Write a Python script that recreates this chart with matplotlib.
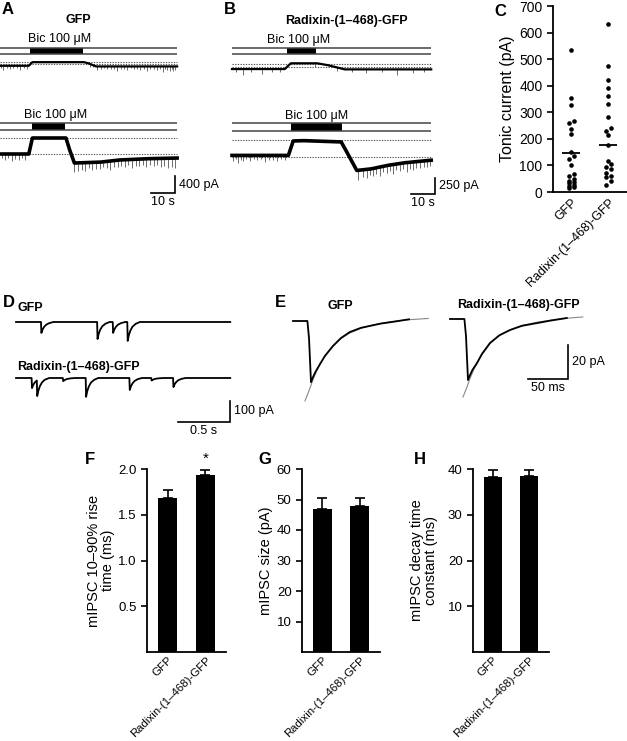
import numpy as np
import matplotlib
matplotlib.use('Agg')
import matplotlib.pyplot as plt

plt.rcParams['font.family'] = ['Liberation Sans', 'DejaVu Sans']

groups = ['GFP', 'Radixin-(1\u2013468)-GFP']

# A: tonic current, GFP (time s, current pA)
a1_time = [0, 12.0, 13.5, 35.0, 37.0, 40.0, 73.8]
a1_curr = [-35, -35, 50, 50, 20, -50, -50]
a1_dotted = [0, 60]
a1_bic = (12.5, 34.6)
a1_spike_t = [0.6, 1.4, 2.9, 4.2, 5.5, 7.0, 8.3, 9.9, 11.2, 37.5, 38.8, 40.4, 42.0, 43.2, 44.6,
              46.1, 47.5, 48.8, 50.3, 51.6, 52.9, 54.5, 55.9, 57.0, 58.3, 59.8, 61.3, 62.6,
              64.0, 65.4, 66.6, 67.9, 68.8, 69.6, 70.8, 71.5, 72.1, 73.0]
a1_spike_a = [60, 90, 50, 70, 60, 45, 110, 55, 70, 80, 50, 90, 60, 45, 70,
              55, 65, 100, 50, 60, 80, 45, 70, 55, 90, 60, 110, 50,
              70, 80, 55, 120, 60, 90, 100, 70, 110, 80]

a2_time = [0, 12.0, 13.5, 27.5, 29.0, 31.0, 42.0, 50.0, 62.0, 73.8]
a2_curr = [0, 0, 376, 376, 100, -212, -190, -140, -110, -95]
a2_dotted = [0, 376]
a2_bic = (13.3, 27.1)
a2_spike_t = [0.8, 2.2, 3.5, 5.0, 6.3, 7.8, 9.2, 10.6, 31.0, 32.5, 34.0, 35.5, 37.0, 38.5,
              40.0, 41.5, 43.0, 44.5, 46.0, 47.5, 49.0, 50.5, 52.0, 53.5, 55.0, 56.5, 58.0,
              59.5, 61.0, 62.5, 64.0, 65.5, 67.0, 68.5, 70.0, 71.5, 73.0]
a2_spike_a = [100, 140, 90, 160, 110, 130, 100, 150, 220, 180, 160, 200, 140, 190,
              150, 170, 130, 160, 200, 150, 170, 140, 180, 130, 190, 150, 160,
              140, 200, 150, 170, 160, 210, 180, 240, 200, 230]

# B: tonic current, Radixin-(1-468)-GFP
b1_time = [0, 22.0, 24.5, 35.5, 40.0, 47.0, 83.0]
b1_curr = [-40, -40, 50, 50, 20, -45, -45]
b1_dotted = [0, 40]
b1_bic = (22.9, 35.0)
b1_spike_t = [1.5, 4.6, 8.0, 12.5, 16.5, 20.0, 34.6, 43.75, 50.0, 56.0, 62.5, 68.75, 75.4, 80.0]
b1_spike_a = [50, 90, 45, 70, 50, 40, 60, 50, 45, 55, 40, 80, 60, 45]

b2_time = [0, 23.5, 25.5, 30.0, 45.5, 47.5, 52.0, 58.0, 65.0, 72.0, 83.0]
b2_curr = [25, 25, 250, 255, 235, 100, -210, -185, -130, -90, -50]
b2_dotted = [0, 265]
b2_bic = (24.6, 45.8)
b2_spike_t = [0.4, 1.5, 2.5, 3.6, 4.6, 6.0, 7.5, 9.0, 10.4, 12.0, 13.75, 15.5, 17.0, 18.75,
              20.5, 22.0, 52.5, 54.5, 56.3, 57.5, 58.8, 60.2, 61.7, 63.0, 64.6, 65.8, 67.1,
              68.5, 70.0, 71.4, 72.9, 74.0, 75.4, 76.8, 78.3, 79.8, 81.3, 82.5]
b2_spike_a = [80, 60, 120, 70, 90, 60, 80, 55, 70, 60, 100, 65, 75, 80,
              60, 70, 150, 110, 130, 90, 120, 100, 140, 90, 110, 95, 150,
              100, 120, 90, 140, 100, 130, 95, 110, 90, 100, 85]

# C: tonic current per cell (pA)
c_gfp = [534, 352, 326, 268, 258, 236, 217, 150, 135, 123, 101, 68, 62, 48, 42, 36, 32, 28, 24, 20, 16]
c_rad = [632, 475, 421, 390, 361, 333, 283, 239, 229, 214, 176, 118, 105, 95, 85, 72, 62, 55, 40, 28]
c_median = [145, 177]

# D: mIPSC traces (event time s, amplitude pA)
d_len = 2.06
d1_ev_t = [0.24, 0.78, 0.93, 1.07]
d1_ev_a = [52, 81, 52, 90]
d2_ev_t = [0.15, 0.20, 0.45, 0.67, 1.09, 1.30, 1.51]
d2_ev_a = [48, 75, 15, 90, 57, 12, 43]
mipsc_dt = [0, 0.004, 0.015, 0.03, 0.05, 0.08, 0.12]
mipsc_frac = [0, 1.0, 0.7, 0.45, 0.25, 0.1, 0]

# E: averaged mIPSCs (ms, pA) and decay fits
e1_t = [-20, -2, 0, 2.5, 5, 8, 13.75, 20, 30, 40, 51, 65, 76, 90, 105, 125]
e1_i = [0, 0, -10, -36, -33, -30, -25.3, -20.5, -14.7, -10, -6.5, -4, -2.9, -1.5, -0.5, 1]
e1_fit_t = [-5, 0, 5, 10, 15, 20, 30, 40, 50, 65, 80, 100, 120, 149]
e1_fit_i = [-47, -41, -34.5, -29, -24.5, -20.5, -14.5, -10.3, -7.3, -4.3, -2.3, -0.5, 0.6, 1.5]
e2_t = [-20, -2, 0, 2.5, 5, 8, 13.75, 20, 30, 42, 55, 70, 88.75, 105, 126]
e2_i = [0, 0, -10, -35.9, -33, -30, -25.9, -20.5, -14.1, -9.5, -6.5, -4, -2.4, -1, 0.6]
e2_fit_t = [-3.75, 0, 5, 10, 15, 20, 30, 40, 55, 70, 90, 110, 130, 146]
e2_fit_i = [-45.9, -41.5, -35, -29.5, -25, -21, -14.5, -10.2, -6.3, -3.8, -1.8, -0.4, 0.6, 1.2]

# F-H: mean +/- SEM
rise_mean = [1.68, 1.93]
rise_sem = [0.09, 0.06]
size_mean = [46.8, 47.8]
size_sem = [3.6, 2.6]
decay_mean = [38.2, 38.4]
decay_sem = [1.6, 1.4]

W, H = 627, 741
fig = plt.figure(figsize=(W / 100, H / 100), dpi=100)


def rect(l, t, r, b):
    return [l / W, 1 - b / H, (r - l) / W, (b - t) / H]


def label(x, y, s, size=9, weight='normal', ha='center', va='center'):
    fig.text(x / W, 1 - y / H, s, fontsize=size, fontweight=weight, ha=ha, va=va)


def trace_axes(l, t, r, b, x0, y0, sx, sy):
    ax = fig.add_axes(rect(l, t, r, b))
    ax.set_xlim((l - x0) * sx, (r - x0) * sx)
    ax.set_ylim((y0 - b) * sy, (y0 - t) * sy)
    ax.axis('off')
    return ax


def drug_bar(ax, y0, sy, top_px, bot_px, t_end, bic):
    y1 = (y0 - top_px) * sy
    y2 = (y0 - bot_px) * sy
    ax.hlines([y1, y2], 0, t_end, color='#444444', lw=1.1)
    ax.fill_between(list(bic), y2, y1, color='k', lw=0)


def tonic(ax, t, i, st, sa, dotted, lw):
    for d in dotted:
        ax.plot([t[0], t[-1]], [d, d], color='#555555', lw=0.8, ls=(0, (1.2, 1.2)))
    base = np.interp(st, t, i)
    ax.vlines(st, base - np.array(sa), base, color='#555555', lw=0.6)
    ax.plot(t, i, color='k', lw=lw)


def scalebar(ax, x_end, y_bot, dx, dy, xl, yl, fs=9):
    ax.plot([x_end - dx, x_end, x_end], [y_bot, y_bot, y_bot + dy], color='k', lw=1.2,
            clip_on=False, solid_joinstyle='miter')
    ax.annotate(yl, (x_end, y_bot + dy / 2), xytext=(3, 0), textcoords='offset points',
                va='center', ha='left', fontsize=fs, annotation_clip=False)
    ax.annotate(xl, (x_end - dx / 2, y_bot), xytext=(0, -2), textcoords='offset points',
                va='top', ha='center', fontsize=fs, annotation_clip=False)


# ---- A ----
sx_ab = 10 / 24.0
ax = trace_axes(0, 44, 185, 82, 0, 64.3, sx_ab, 23.5)
drug_bar(ax, 64.3, 23.5, 48, 54, a1_time[-1], a1_bic)
tonic(ax, a1_time, a1_curr, a1_spike_t, a1_spike_a, a1_dotted, 1.6)
ax = trace_axes(0, 118, 185, 200, 0, 154, sx_ab, 23.5)
drug_bar(ax, 154, 23.5, 123, 130, a2_time[-1], a2_bic)
tonic(ax, a2_time, a2_curr, a2_spike_t, a2_spike_a, a2_dotted, 2.6)
scalebar(ax, 72.9, -917, 10, 400, '10 s', '400 pA')

# ---- B ----
ax = trace_axes(230, 44, 440, 82, 232, 66.5, sx_ab, 15.6)
drug_bar(ax, 66.5, 15.6, 48, 54, b1_time[-1], b1_bic)
tonic(ax, b1_time, b1_curr, b1_spike_t, b1_spike_a, b1_dotted, 1.6)
ax = trace_axes(230, 118, 440, 200, 232, 157, sx_ab, 15.6)
drug_bar(ax, 157, 15.6, 123, 131, b2_time[-1], b2_bic)
tonic(ax, b2_time, b2_curr, b2_spike_t, b2_spike_a, b2_dotted, 2.6)
scalebar(ax, 84.6, -577, 10, 250, '10 s', '250 pA')

label(8, 10, 'A', 12, 'bold')
label(78, 20, 'GFP', 9, 'bold')
label(60, 39, 'Bic 100 \u03bcM')
label(56, 115, 'Bic 100 \u03bcM')
label(230, 10, 'B', 12, 'bold')
label(346, 21, groups[1], 9, 'bold')
label(299, 40, 'Bic 100 \u03bcM')
label(317, 116, 'Bic 100 \u03bcM')

# ---- C ----
ax = fig.add_axes(rect(553, 6, 627, 192))
for k, vals in enumerate([c_gfp, c_rad]):
    v = np.sort(np.array(vals, dtype=float))
    xs = np.full(len(v), float(k))
    side = 1
    for j in range(1, len(v)):
        if v[j] - v[j - 1] < 14 and xs[j - 1] == k:
            xs[j] = k + 0.07 * side
            xs[j - 1] = k - 0.07 * side
    ax.plot(xs, v, 'o', color='k', ms=3.3, mew=0)
    ax.hlines(c_median[k], k - 0.25, k + 0.25, color='k', lw=1.3)
ax.set_xlim(-0.49, 1.51)
ax.set_ylim(0, 700)
ax.set_yticks(range(0, 701, 100))
ax.set_xticks([0, 1])
ax.set_xticklabels(groups, rotation=45, ha='right', va='top', rotation_mode='anchor', fontsize=9)
ax.tick_params(axis='y', labelsize=10, length=4, width=1.2)
ax.tick_params(axis='x', length=0, pad=3)
for s in ['top', 'right']:
    ax.spines[s].set_visible(False)
for s in ['left', 'bottom']:
    ax.spines[s].set_linewidth(1.3)
ax.set_ylabel('Tonic current (pA)', fontsize=11.5)
ax.yaxis.set_label_coords(-0.52, 0.5)
label(500, 12, 'C', 12, 'bold')


# ---- D ----
def mipsc_trace(ev_t, ev_a):
    pts = [0.0, d_len]
    for e in ev_t:
        pts += [e + d for d in mipsc_dt]
    t = np.unique(np.array(pts))
    t = t[t <= d_len]
    i = np.zeros_like(t)
    for e, a in zip(ev_t, ev_a):
        i -= a * np.interp(t - e, mipsc_dt, mipsc_frac, left=0, right=0)
    return t, i


sx_d, sy_d = 0.5 / 52, 100 / 21.0
ax = trace_axes(10, 310, 240, 350, 16, 322, sx_d, sy_d)
t, i = mipsc_trace(d1_ev_t, d1_ev_a)
ax.plot(t, i, color='k', lw=1.3)
ax = trace_axes(10, 362, 260, 440, 16, 378, sx_d, sy_d)
t, i = mipsc_trace(d2_ev_t, d2_ev_a)
ax.plot(t, i, color='k', lw=1.3)
scalebar(ax, 2.058, -209, 0.5, 100, '0.5 s', '100 pA')
label(9, 302, 'D', 12, 'bold')
label(17, 308, 'GFP', 9, 'bold', ha='left')
label(17, 367, groups[1], 9, 'bold', ha='left')

# ---- E ----
sx_e, sy_e = 50 / 40.0, 20 / 34.0
ax = trace_axes(290, 312, 440, 410, 309, 321, sx_e, sy_e)
ax.plot(e1_fit_t, e1_fit_i, color='#888888', lw=0.8)
ax.plot(e1_t, e1_i, color='k', lw=1.3)
ax = trace_axes(445, 312, 610, 410, 466, 319, sx_e, sy_e)
ax.plot(e2_fit_t, e2_fit_i, color='#888888', lw=0.8)
ax.plot(e2_t, e2_i, color='k', lw=1.3)
scalebar(ax, 127.5, -35.3, 50, 20, '50 ms', '20 pA')
label(280, 302, 'E', 12, 'bold')
label(340, 306, 'GFP', 9, 'bold')
label(518, 305, groups[1], 9, 'bold')


# ---- F, G, H ----
def bar_panel(l, r, means, sems, ymax, ticks, ylabel, lab_x):
    ax = fig.add_axes(rect(l, 469, r, 652))
    x = np.arange(2)
    ax.bar(x, means, width=0.5, color='k')
    ax.errorbar(x, means, yerr=[np.zeros(2), sems], fmt='none', ecolor='k',
                elinewidth=1.2, capsize=3.5, capthick=1.2)
    ax.set_xlim(-0.54, 1.54)
    ax.set_ylim(0, ymax)
    ax.set_yticks(ticks)
    ax.set_xticks(x)
    ax.set_xticklabels(groups, rotation=45, ha='right', va='top', rotation_mode='anchor', fontsize=8.2)
    ax.tick_params(axis='y', labelsize=9.5, length=4, width=1.2)
    ax.tick_params(axis='x', length=0, pad=2)
    for s in ['top', 'right']:
        ax.spines[s].set_visible(False)
    for s in ['left', 'bottom']:
        ax.spines[s].set_linewidth(1.3)
    ax.set_ylabel(ylabel, fontsize=10.5, linespacing=1.0)
    ax.yaxis.set_label_coords(lab_x, 0.5)
    return ax


ax = bar_panel(147, 226, rise_mean, rise_sem, 2.0, [0.5, 1.0, 1.5, 2.0],
               'mIPSC 10\u201390% rise\ntime (ms)', -0.40)
ax.set_yticklabels(['0.5', '1.0', '1.5', '2.0'])
ax.text(1, rise_mean[1] + rise_sem[1] + 0.04, '*', ha='center', va='bottom', fontsize=11, clip_on=False)
bar_panel(302, 380, size_mean, size_sem, 60, [10, 20, 30, 40, 50, 60], 'mIPSC size (pA)', -0.37)
bar_panel(473, 549, decay_mean, decay_sem, 40, [10, 20, 30, 40],
          'mIPSC decay time\nconstant (ms)', -0.46)
label(90, 460, 'F', 12, 'bold')
label(265, 460, 'G', 12, 'bold')
label(420, 460, 'H', 12, 'bold')

fig.savefig('out.png', dpi=100)
